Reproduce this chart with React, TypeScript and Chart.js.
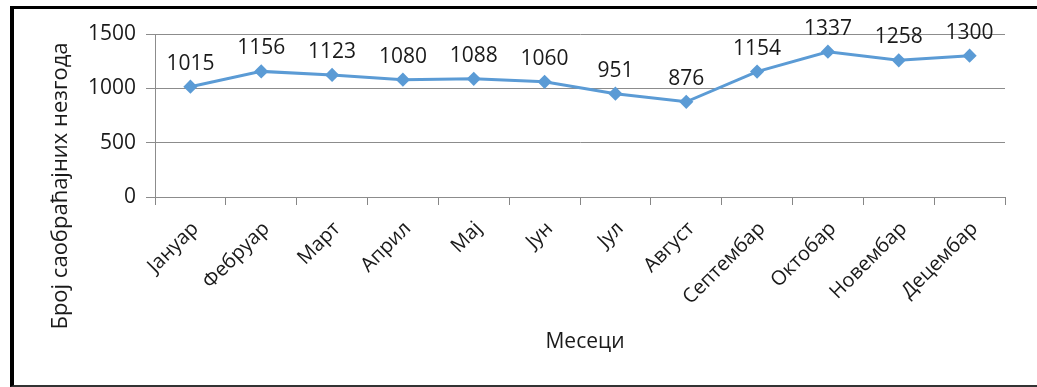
import React, { useEffect, useRef } from "react";
import { Chart, registerables } from "chart.js";

Chart.register(...registerables);

const months = ["Јануар", "Фебруар", "Март", "Април", "Мај", "Јун", "Јул", "Август", "Септембар", "Октобар", "Новембар", "Децембар"];
const accidents = [1015, 1156, 1123, 1080, 1088, 1060, 951, 876, 1154, 1337, 1258, 1300];
const yTitle = "Број саобраћајних незгода";
const xTitle = "Месеци";

const FONT = "'Open Sans', 'Liberation Sans', sans-serif";

const labelsPlugin = {
  id: "customLabels",
  afterDatasetsDraw(chart: any) {
    const ctx = chart.ctx;
    ctx.save();
    ctx.fillStyle = "#1a1a1a";
    ctx.font = `21px ${FONT}`;
    ctx.textAlign = "center";
    ctx.textBaseline = "middle";
    const meta = chart.getDatasetMeta(0);
    meta.data.forEach((pt: any, i: number) => {
      ctx.fillText(String(accidents[i]), pt.x, pt.y - 23);
    });
    // y title
    ctx.save();
    ctx.font = `22px ${FONT}`;
    ctx.translate(61, 186);
    ctx.rotate(-Math.PI / 2);
    ctx.fillText(yTitle, 0, 0);
    ctx.restore();
    // x title
    ctx.fillText(xTitle, 585, 342);
    ctx.restore();
  },
};

export default function App() {
  const ref = useRef<HTMLCanvasElement>(null);
  useEffect(() => {
    if (!ref.current) return;
    const chart = new Chart(ref.current, {
      type: "line",
      data: {
        labels: months,
        datasets: [
          {
            data: accidents,
            borderColor: "#5B9BD5",
            backgroundColor: "#5B9BD5",
            borderWidth: 3,
            pointStyle: "rectRot",
            pointRadius: 5,
            pointHoverRadius: 5,
            tension: 0,
          },
        ],
      },
      options: {
        responsive: false,
        animation: false,
        devicePixelRatio: 1,
        layout: { padding: { left: 0, top: 34, right: 32, bottom: 0 } },
        plugins: { legend: { display: false }, tooltip: { enabled: false } },
        scales: {
          x: {
            offset: true,
            grid: { offset: true, drawOnChartArea: false, color: "#868686", tickLength: 8 },
            border: { display: false },
            ticks: {
              color: "#1a1a1a",
              font: { family: FONT, size: 20 },
              maxRotation: 45,
              minRotation: 45,
              padding: 12,
              labelOffset: 5,
            },
            afterFit: (s: any) => {
              s.height = 190;
            },
          },
          y: {
            min: 0,
            max: 1500,
            ticks: {
              stepSize: 500,
              color: "#1a1a1a",
              font: { family: FONT, size: 21 },
              padding: 10,
              callback: (v: any) => String(v),
            },
            grid: { color: "#8c8c8c", tickLength: 9 },
            border: { color: "#8c8c8c" },
            afterFit: (s: any) => {
              s.width = 155;
            },
          },
        },
      },
      plugins: [labelsPlugin],
    });
    return () => chart.destroy();
  }, []);
  return (
    <div style={{ position: "fixed", left: 0, top: 0, width: 1037, height: 387, background: "#fff", overflow: "hidden" }}>
      <div
        style={{
          position: "absolute",
          left: 10,
          top: 6,
          width: 1100,
          height: 381,
          boxSizing: "border-box",
          borderTop: "3px solid #000",
          borderLeft: "4px solid #000",
          borderBottom: "2px solid #333",
        }}
      />
      <canvas ref={ref} width={1037} height={387} style={{ position: "absolute", left: 0, top: 0 }} />
    </div>
  );
}
